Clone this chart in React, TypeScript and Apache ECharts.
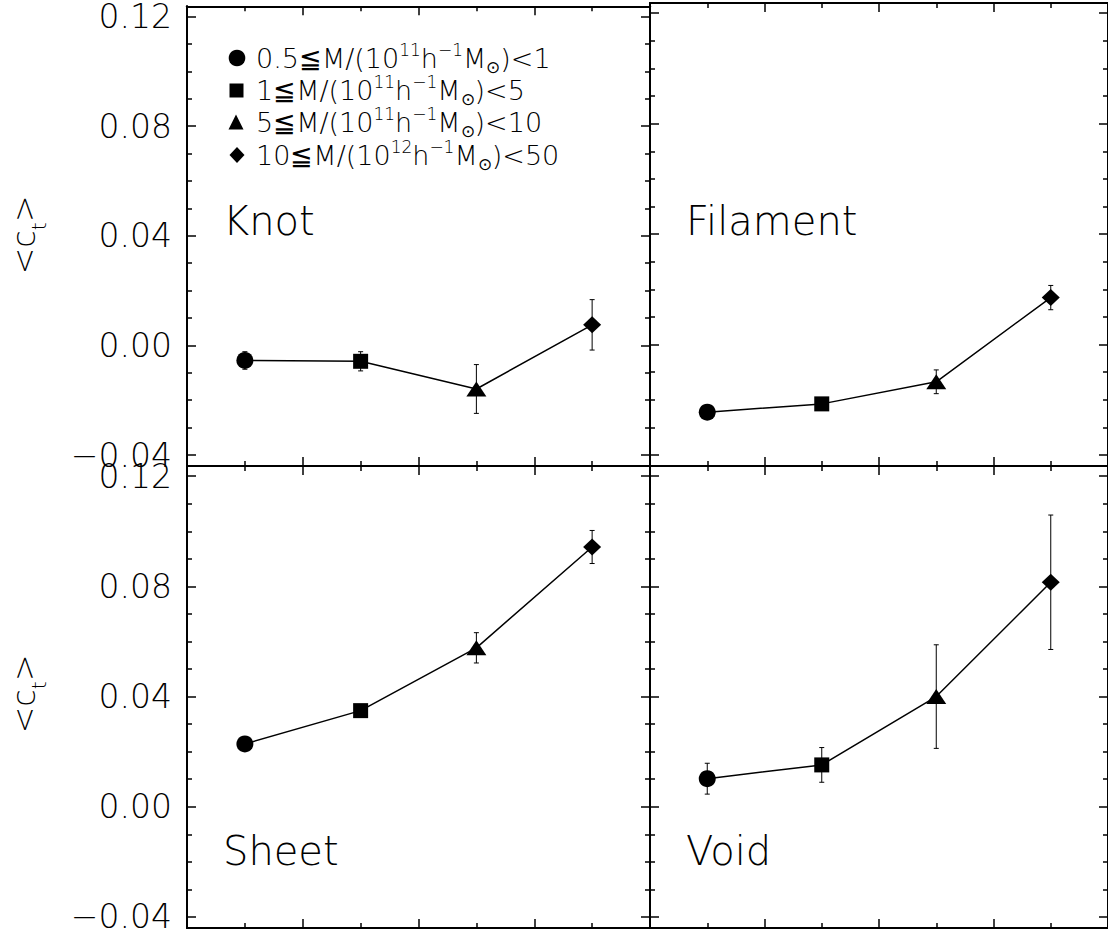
import React, { useEffect, useRef } from 'react';
import * as echarts from 'echarts';

// ---- data ----
const xPositions = [0.5, 1.5, 2.5, 3.5];
const massSymbols = ['circle', 'rect', 'triangle', 'diamond'];

const panelNames = ['Knot', 'Filament', 'Sheet', 'Void'];

const knotValues = [-0.0055, -0.0058, -0.0159, 0.0075];
const knotErrors = [0.0032, 0.0035, 0.0089, 0.0092];
const filamentValues = [-0.0245, -0.0215, -0.0135, 0.017];
const filamentErrors = [0.0008, 0.0008, 0.0043, 0.0044];
const sheetValues = [0.0228, 0.0349, 0.0577, 0.0943];
const sheetErrors = [0.0008, 0.0008, 0.0055, 0.006];
const voidValues = [0.0102, 0.0152, 0.04, 0.0815];
const voidErrors = [0.0056, 0.0063, 0.0188, 0.0244];

const yMajorTicks = [-0.04, 0, 0.04, 0.08, 0.12];
const yMinorTicks = [-0.03, -0.02, -0.01, 0.01, 0.02, 0.03, 0.05, 0.06, 0.07, 0.09, 0.1, 0.11];

const legendLabels = [
  '{a|0.5≦M/(10}{sup|11}{a|h}{sup|−1}{a|M}{sub|⊙}{a|)<1}',
  '{a|1≦M/(10}{sup|11}{a|h}{sup|−1}{a|M}{sub|⊙}{a|)<5}',
  '{a|5≦M/(10}{sup|11}{a|h}{sup|−1}{a|M}{sub|⊙}{a|)<10}',
  '{a|10≦M/(10}{sup|12}{a|h}{sup|−1}{a|M}{sub|⊙}{a|)<50}',
];
const yTitle = '{a|<c}{s|t}{a|>}';

// ---- layout / style ----
const FONT = 'DejaVu Sans';
const FW = 200;
const Y_MIN = -0.044;
const Y_MAX = 0.1237;
const symbolSizes: any[] = [17, 15, [20, 15], [18, 17]];

const grids = [
  { left: 187, top: 3, width: 463, height: 463 },
  { left: 650, top: 3, width: 463, height: 463 },
  { left: 187, top: 466, width: 463, height: 462 },
  { left: 650, top: 466, width: 463, height: 462 },
];
const panelLabelPos = [
  [223, 221],
  [686, 221],
  [223, 851],
  [686, 851],
];

const panelValues = [knotValues, filamentValues, sheetValues, voidValues];
const panelErrors = [knotErrors, filamentErrors, sheetErrors, voidErrors];

const axisLineStyle = { color: '#000', width: 2 };
const tickLineStyle = { color: '#000', width: 1.5 };

function fmt(v: number) {
  const s = Math.abs(v).toFixed(2);
  return v < -1e-9 ? '−' + s : s;
}

function buildOption() {
  const xAxis: any[] = [];
  const yAxis: any[] = [];
  const series: any[] = [];

  grids.forEach((g, gi) => {
    ['bottom', 'top'].forEach((pos) => {
      xAxis.push({
        gridIndex: gi,
        type: 'value',
        min: 0,
        max: 4,
        interval: 1,
        position: pos,
        axisLine: { show: true, onZero: false, lineStyle: axisLineStyle },
        axisTick: { show: true, inside: true, length: 9, lineStyle: tickLineStyle },
        minorTick: { show: true, splitNumber: 2, length: 5, lineStyle: tickLineStyle },
        axisLabel: { show: false },
        splitLine: { show: false },
        minorSplitLine: { show: false },
      });
    });
    ['left', 'right'].forEach((pos) => {
      yAxis.push({
        gridIndex: gi,
        type: 'value',
        min: Y_MIN,
        max: Y_MAX,
        position: pos,
        axisLine: { show: true, onZero: false, lineStyle: axisLineStyle },
        axisTick: { show: true, inside: true, length: 9, customValues: yMajorTicks, lineStyle: tickLineStyle },
        axisLabel: {
          show: pos === 'left' && gi % 2 === 0,
          customValues: yMajorTicks,
          formatter: (v: number) => fmt(v),
          fontFamily: FONT,
          fontWeight: FW,
          fontSize: 33,
          color: '#000',
          margin: 15,
          padding: [8, 0, 0, 0],
        },
        splitLine: { show: false },
      });
      yAxis.push({
        gridIndex: gi,
        type: 'value',
        min: Y_MIN,
        max: Y_MAX,
        position: pos,
        axisLine: { show: true, onZero: false, lineStyle: axisLineStyle },
        axisTick: { show: true, inside: true, length: 5, customValues: yMinorTicks, lineStyle: tickLineStyle },
        axisLabel: { show: false },
        splitLine: { show: false },
      });
    });

    const vals = panelValues[gi];
    const errs = panelErrors[gi];
    series.push({
      type: 'custom',
      name: panelNames[gi] + ' errors',
      xAxisIndex: gi * 2,
      yAxisIndex: gi * 4,
      z: 1,
      silent: true,
      clip: false,
      data: xPositions.map((x, k) => [x, vals[k], errs[k]]),
      encode: { x: 0, y: 1 },
      renderItem: (params: any, api: any) => {
        const x = api.value(0);
        const y = api.value(1);
        const e = api.value(2);
        const p1 = api.coord([x, y + e]);
        const p2 = api.coord([x, y - e]);
        const cw = 2.5;
        const st = { stroke: '#000', lineWidth: 1 };
        return {
          type: 'group',
          children: [
            { type: 'line', shape: { x1: p1[0], y1: p1[1], x2: p2[0], y2: p2[1] }, style: st },
            { type: 'line', shape: { x1: p1[0] - cw, y1: p1[1], x2: p1[0] + cw, y2: p1[1] }, style: st },
            { type: 'line', shape: { x1: p2[0] - cw, y1: p2[1], x2: p2[0] + cw, y2: p2[1] }, style: st },
          ],
        };
      },
    });
    series.push({
      type: 'line',
      name: panelNames[gi],
      xAxisIndex: gi * 2,
      yAxisIndex: gi * 4,
      z: 3,
      lineStyle: { color: '#000', width: 1.5 },
      itemStyle: { color: '#000' },
      data: xPositions.map((x, k) => ({
        value: [x, vals[k]],
        symbol: massSymbols[k],
        symbolSize: symbolSizes[k],
      })),
    });
  });

  const graphic: any[] = [];
  [235, 694].forEach((cy) => {
    graphic.push({
      type: 'text',
      x: 24,
      y: cy,
      rotation: Math.PI / 2,
      style: {
        text: yTitle,
        align: 'center',
        verticalAlign: 'middle',
        fill: '#000',
        rich: {
          a: { fontFamily: FONT, fontWeight: FW, fontSize: 32, lineHeight: 50, fill: '#000' },
          s: { fontFamily: FONT, fontWeight: FW, fontSize: 20, lineHeight: 20, verticalAlign: 'bottom', fill: '#000' },
        },
      },
    });
  });
  panelNames.forEach((name, i) => {
    graphic.push({
      type: 'text',
      x: panelLabelPos[i][0],
      y: panelLabelPos[i][1],
      style: {
        text: name,
        fontFamily: FONT,
        fontWeight: FW,
        fontSize: 40,
        fill: '#000',
        align: 'left',
        verticalAlign: 'middle',
      },
    });
  });
  const rowY = [58, 90.5, 122.5, 155];
  graphic.push({ type: 'circle', shape: { cx: 237, cy: rowY[0], r: 8.3 }, style: { fill: '#000' } });
  graphic.push({ type: 'rect', shape: { x: 229.5, y: rowY[1] - 7, width: 14, height: 14 }, style: { fill: '#000' } });
  graphic.push({
    type: 'polygon',
    shape: { points: [[236, rowY[2] - 8], [243.5, rowY[2] + 7], [228.5, rowY[2] + 7]] },
    style: { fill: '#000' },
  });
  graphic.push({
    type: 'polygon',
    shape: { points: [[237, rowY[3] - 8], [244.5, rowY[3]], [237, rowY[3] + 8], [229.5, rowY[3]]] },
    style: { fill: '#000' },
  });
  legendLabels.forEach((t, i) => {
    graphic.push({
      type: 'text',
      x: 256,
      y: rowY[i],
      style: {
        text: t,
        align: 'left',
        verticalAlign: 'middle',
        fill: '#000',
        rich: {
          a: { fontFamily: FONT, fontWeight: FW, fontSize: 27, lineHeight: 34, fill: '#000' },
          sup: { fontFamily: FONT, fontWeight: FW, fontSize: 17, lineHeight: 17, verticalAlign: 'top', fill: '#000' },
          sub: { fontFamily: FONT, fontWeight: FW, fontSize: 17, lineHeight: 17, verticalAlign: 'bottom', fill: '#000' },
        },
      },
    });
  });

  return {
    animation: false,
    backgroundColor: '#fff',
    grid: grids.map((g) => ({ ...g, containLabel: false })),
    xAxis,
    yAxis,
    series,
    graphic,
  };
}

export default function App() {
  const ref = useRef<HTMLDivElement>(null);
  useEffect(() => {
    if (!ref.current) return;
    const chart = echarts.init(ref.current, undefined, { renderer: 'svg' });
    chart.setOption(buildOption() as any);
    return () => chart.dispose();
  }, []);
  return (
    <div
      ref={ref}
      style={{ position: 'absolute', left: 0, top: 0, width: 1108, height: 937, background: '#fff' }}
    />
  );
}
